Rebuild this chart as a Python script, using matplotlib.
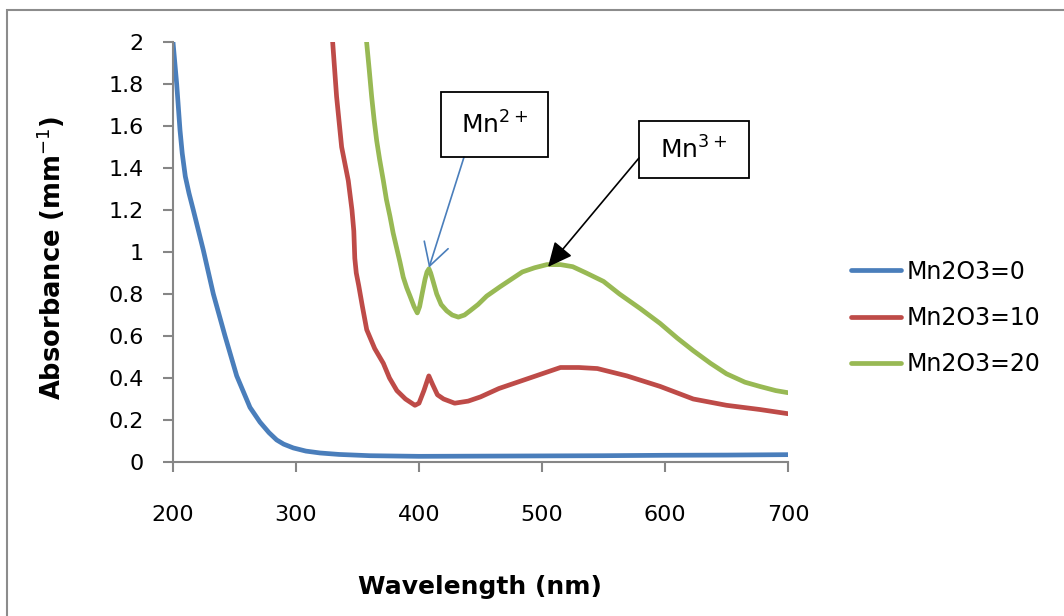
import matplotlib
matplotlib.use('Agg')
import matplotlib.pyplot as plt
import matplotlib.patches as patches
from matplotlib.ticker import FuncFormatter, MultipleLocator

# Spectra (wavelength in nm, absorbance in mm^-1).
wl_0 = [200, 203, 205.7, 207.5, 210, 213, 216.5, 224.6, 232.8, 242.3, 251.8, 262.6, 270.7, 278,
        284.3, 290, 297.8, 308, 319.5, 335, 360, 400, 450, 500, 550, 600, 650, 700]
abs_0 = [2.0, 1.80, 1.58, 1.47, 1.36, 1.28, 1.20, 1.01, 0.80, 0.60, 0.41, 0.26, 0.19, 0.14,
         0.105, 0.085, 0.067, 0.052, 0.043, 0.036, 0.030, 0.027, 0.028, 0.029, 0.030, 0.032, 0.033, 0.035]

wl_10 = [329.8, 333, 337.1, 342.5, 345.5, 347, 347.8, 349, 351, 354,
         357.5, 364, 371, 376, 382, 389, 396.7, 400, 404, 408,
         411, 415, 420, 429, 440, 450, 465, 480, 500, 515,
         530, 545, 569, 596, 623, 650, 677, 700]
abs_10 = [2.0, 1.74, 1.50, 1.34, 1.20, 1.10, 0.97, 0.90, 0.84, 0.74,
          0.63, 0.54, 0.47, 0.40, 0.34, 0.30, 0.27, 0.28, 0.34, 0.41,
          0.37, 0.32, 0.30, 0.28, 0.29, 0.31, 0.35, 0.38, 0.42, 0.45,
          0.45, 0.445, 0.41, 0.36, 0.30, 0.27, 0.25, 0.23]

wl_20 = [357.4, 359.5, 361.5, 363.5, 365.6, 368, 371, 373.5, 376.4, 379,
         381.8, 384.6, 387.2, 390, 392.7, 396, 398.6, 400.5, 402.5, 404.9,
         406.5, 408.1, 409.5, 411, 414.4, 418, 422.5, 427, 432, 437,
         441.5, 448, 455, 466, 475, 484, 494, 504, 515, 525,
         536, 550, 563, 580, 596, 610, 623, 637, 650, 665,
         677, 690, 700]
abs_20 = [2.0, 1.87, 1.74, 1.63, 1.53, 1.44, 1.34, 1.25, 1.17, 1.09,
          1.02, 0.95, 0.88, 0.83, 0.79, 0.74, 0.71, 0.74, 0.80, 0.87,
          0.905, 0.92, 0.90, 0.87, 0.80, 0.75, 0.72, 0.70, 0.69, 0.70,
          0.72, 0.75, 0.79, 0.835, 0.87, 0.905, 0.925, 0.94, 0.94, 0.93,
          0.90, 0.86, 0.80, 0.73, 0.66, 0.59, 0.53, 0.47, 0.42, 0.38,
          0.36, 0.34, 0.33]

series_labels = ['Mn2O3=0', 'Mn2O3=10', 'Mn2O3=20']
series_colors = ['#4a7ebb', '#be4b48', '#98b954']

# Figure and axes placement.
fig = plt.figure(figsize=(10.64, 6.16), dpi=100)
ax = fig.add_axes([173 / 1064, 1 - 462 / 616, 615 / 1064, 420 / 616])

# Outer chart frame (runs off the right and bottom edge like the original).
frame = patches.Rectangle((7 / 1064, -0.05), 1.2, 1 - 10 / 616 + 0.05, transform=fig.transFigure,
                          fill=False, edgecolor='#8c8c8c', linewidth=1.5)
fig.patches.append(frame)

# Curves.
for wl, ab, lab, col in zip([wl_0, wl_10, wl_20], [abs_0, abs_10, abs_20], series_labels, series_colors):
    ax.plot(wl, ab, color=col, linewidth=3.4, label=lab, solid_capstyle='round', solid_joinstyle='round')

ax.set_xlim(200, 700)
ax.set_ylim(0, 2)
ax.xaxis.set_major_locator(MultipleLocator(100))
ax.yaxis.set_major_locator(MultipleLocator(0.2))
ax.yaxis.set_major_formatter(FuncFormatter(lambda v, p: '%g' % round(v, 1)))

for side in ['top', 'right']:
    ax.spines[side].set_visible(False)
for side in ['left', 'bottom']:
    ax.spines[side].set_color('#868686')
    ax.spines[side].set_linewidth(1.5)
ax.tick_params(axis='both', direction='out', length=7, width=1.5, color='#868686', labelsize=16)
ax.tick_params(axis='y', pad=14)
ax.tick_params(axis='x', pad=24)

ax.set_xlabel('Wavelength (nm)', fontsize=18, fontweight='bold')
ax.set_ylabel(r'Absorbance (mm$^{-1}$)', fontsize=18.5, fontweight='bold')
ax.xaxis.set_label_coords(0.499, -0.27)
ax.yaxis.set_label_coords(-0.172, 0.486)

# Legend on the right.
ax.legend(loc='center left', bbox_to_anchor=(851 / 1064, 1 - 318 / 616), bbox_transform=fig.transFigure,
          frameon=False, fontsize=17, handlelength=2.1, handletextpad=0.25, labelspacing=0.95,
          borderpad=0, borderaxespad=0)

# Annotation boxes with arrows.
ax.add_patch(patches.Rectangle((417.9, 1.452), 87.0, 0.310, fill=False, edgecolor='black',
                               linewidth=1.3, clip_on=False, zorder=5))
ax.text(461.4, 1.607, r'Mn$^{2+}$', fontsize=18, ha='center', va='center', zorder=6)
ax.annotate('', xy=(408.1, 0.925), xytext=(436.6, 1.452),
            arrowprops=dict(arrowstyle='->,head_length=0.8,head_width=0.45', color='#4a7ebb',
                            linewidth=1.2, mutation_scale=20, shrinkA=0, shrinkB=0))

ax.add_patch(patches.Rectangle((578.9, 1.352), 89.4, 0.272, fill=False, edgecolor='black',
                               linewidth=1.3, clip_on=False, zorder=5))
ax.text(623.6, 1.488, r'Mn$^{3+}$', fontsize=18, ha='center', va='center', zorder=6)
ax.annotate('', xy=(504.9, 0.929), xytext=(578.9, 1.448),
            arrowprops=dict(arrowstyle='-|>,head_length=0.75,head_width=0.35', color='black',
                            linewidth=1.2, mutation_scale=20, shrinkA=0, shrinkB=0))

plt.savefig('out.png', dpi=100)
